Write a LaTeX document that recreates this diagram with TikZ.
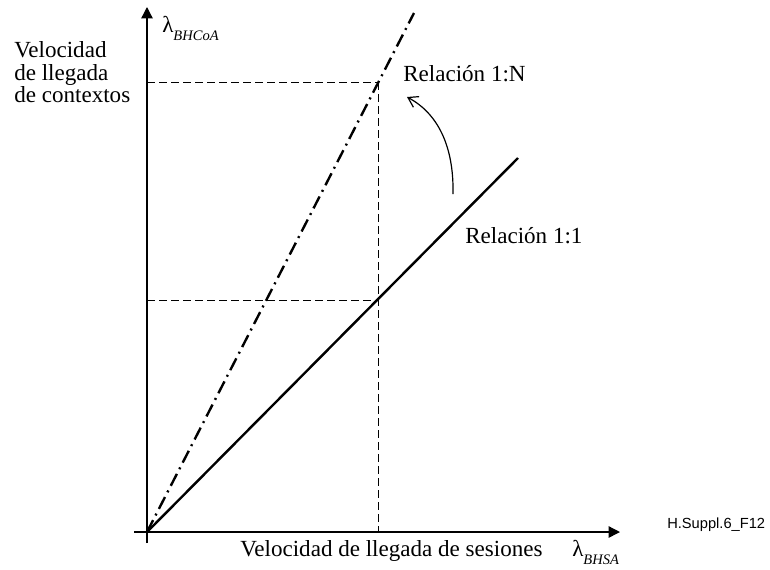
\documentclass[tikz,border=0pt]{standalone}
\usepackage{fontspec}
\setmainfont{Liberation Serif}
\newfontfamily\hsans{Liberation Sans}
\usetikzlibrary{arrows.meta}
\begin{document}
\begin{tikzpicture}[x=0.75pt,y=-0.75pt,
  axisline/.style={line width=1pt,-{Triangle[length=8.5pt,width=8.5pt]}},
  guide/.style={line width=0.7pt,dash pattern=on 6pt off 3pt},
  oneone/.style={line width=1.8pt},
  onen/.style={line width=1.8pt,dash pattern=on 10pt off 4pt on 1.5pt off 4pt},
  curvearrow/.style={line width=0.9pt,-{Straight Barb[length=7pt,width=9pt]}},
  lab/.style={inner sep=0pt,anchor=base west,font=\fontsize{17.3}{20}\selectfont},
  tag/.style={inner sep=0pt,anchor=base west,font=\hsans\fontsize{11}{13}\selectfont}]
\useasboundingbox (0,0) rectangle (770,569);
% coordinates
\coordinate (O) at (147,532);
\coordinate (ytop) at (147,7);
\coordinate (ybot) at (147,543);
\coordinate (xleft) at (134,532);
\coordinate (xright) at (620,532);
\coordinate (P1) at (378,82);
\coordinate (P2) at (378,300);
\coordinate (Y1) at (147,82);
\coordinate (Y2) at (147,300);
\coordinate (X1) at (378,532);
\coordinate (Ntop) at (414,13);
\coordinate (Send) at (518,158);
\coordinate (cA) at (453,194);
\coordinate (cB) at (407,97);
% axes
\draw[axisline] (ybot) -- (ytop);
\draw[axisline] (xleft) -- (xright);
% guides
\draw[guide] (Y1) -- (P1);
\draw[guide] (Y2) -- (P2);
\draw[guide] (P1) -- (X1);
% lines
\draw[oneone] (O) -- (Send);
\draw[onen] (O) -- (Ntop);
% curved arrow
\draw[curvearrow] (cA) .. controls (454,145) and (437,113) .. (cB);
% labels
\node[lab] (v1) at (14,57) {Velocidad};
\node[lab] (v2) at (14,80) {de llegada};
\node[lab] (v3) at (14,102) {de contextos};
\node[lab] (lamy) at (162,32) {λ\raisebox{-6pt}{\fontsize{10.9}{12}\selectfont\itshape BHCoA}};
\node[lab] (rN) at (403,81) {Relación 1:N};
\node[lab] (r1) at (465,243) {Relación 1:1};
\node[lab] (vx) at (240,556) {Velocidad de llegada de sesiones};
\node[lab] (lamx) at (572,556) {λ\raisebox{-6pt}{\fontsize{10.9}{12}\selectfont\itshape BHSA}};
\node[tag] (tg) at (667,528) {H.Suppl.6\_F12};
\end{tikzpicture}
\end{document}
